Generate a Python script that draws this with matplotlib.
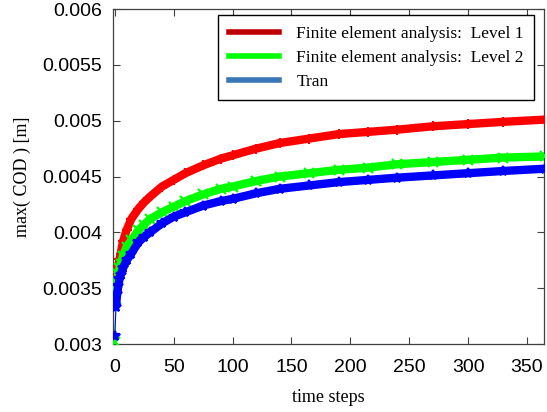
import matplotlib
matplotlib.use("Agg")
import matplotlib.pyplot as plt
from matplotlib.lines import Line2D

# Time steps at which the crack opening was sampled
steps = [0, 1, 2, 3, 4, 5, 7, 10, 14, 20, 25, 30, 40, 50, 60, 75, 90, 100,
         120, 140, 165, 190, 215, 240, 270, 300, 330, 365]

# max(COD) [m] for each model
fea_level1 = [0.00338, 0.00357, 0.00363, 0.00370, 0.00376, 0.00381, 0.00392,
              0.00402, 0.00412, 0.00421, 0.00427, 0.00432, 0.00441, 0.00447,
              0.00453, 0.00460, 0.00466, 0.00469, 0.00475, 0.00480, 0.00484,
              0.00488, 0.00490, 0.00492, 0.00495, 0.00497, 0.00499, 0.00501]
fea_level2 = [0.00302, 0.00340, 0.00355, 0.00363, 0.00368, 0.00372, 0.00379,
              0.00387, 0.00393, 0.00402, 0.00407, 0.00412, 0.00418, 0.00423,
              0.00428, 0.00434, 0.00439, 0.00441, 0.00446, 0.00450, 0.00453,
              0.00456, 0.00458, 0.00461, 0.00463, 0.00465, 0.00467, 0.00468]
tran = [0.00307, 0.00333, 0.00345, 0.00352, 0.00358, 0.00362, 0.00368,
        0.00375, 0.00381, 0.00391, 0.00396, 0.00400, 0.00408, 0.00414,
        0.00418, 0.00424, 0.00428, 0.00430, 0.00435, 0.00439, 0.00442,
        0.00445, 0.00447, 0.00449, 0.00451, 0.00453, 0.00455, 0.00457]

labels = ["Finite element analysis:  Level 1",
          "Finite element analysis:  Level 2",
          "Tran"]

fig = plt.figure(figsize=(5.47, 4.12), dpi=100)
ax = fig.add_axes([0.2066, 0.165, 0.788, 0.813])

series = [(fea_level1, "#ff0000", "+"),
          (fea_level2, "#00ff00", "x"),
          (tran, "#0000ff", "*")]
for values, col, mk in series:
    # thick band from step 1 onward, markers on every sample
    ax.plot(steps[1:], values[1:], color=col, lw=6, solid_capstyle="butt", zorder=3)
    ax.plot(steps, values, color=col, lw=0.8, marker=mk, ms=7, mew=1.6,
            zorder=3)

ax.set_xlim(-1.5, 364.5)
ax.set_ylim(0.003, 0.006)
ax.set_xticks([0, 50, 100, 150, 200, 250, 300, 350])
ax.set_yticks([0.003, 0.0035, 0.004, 0.0045, 0.005, 0.0055, 0.006])
ax.set_yticklabels(["0.003", "0.0035", "0.004", "0.0045", "0.005", "0.0055", "0.006"])

ax.tick_params(direction="in", top=True, right=True, length=5, width=0.8,
               color="#404040", labelsize=14)
ax.tick_params(axis="x", pad=11)
ax.tick_params(axis="y", pad=8)
for lab in ax.get_xticklabels() + ax.get_yticklabels():
    lab.set_fontfamily("Liberation Sans")
for sp in ax.spines.values():
    sp.set_color("#404040")
    sp.set_linewidth(0.9)

ax.set_xlabel("time steps", fontfamily="Liberation Serif", fontsize=13, labelpad=9)
ax.set_ylabel("max( COD ) [m]", fontfamily="Liberation Serif", fontsize=13, labelpad=8)

handles = [Line2D([], [], color="#c00000", lw=4),
           Line2D([], [], color="#00ff00", lw=4),
           Line2D([], [], color="#3a75b8", lw=4)]
leg = ax.legend(handles, labels, loc="upper right", bbox_to_anchor=(0.977, 0.982),
                borderaxespad=0, prop={"family": "Liberation Serif", "size": 12.5},
                frameon=True, fancybox=False, edgecolor="black", framealpha=1,
                handlelength=2.9, handletextpad=1.0, borderpad=0.6,
                labelspacing=0.45)
leg.get_frame().set_linewidth(1.0)

fig.savefig("out.png", dpi=100)
